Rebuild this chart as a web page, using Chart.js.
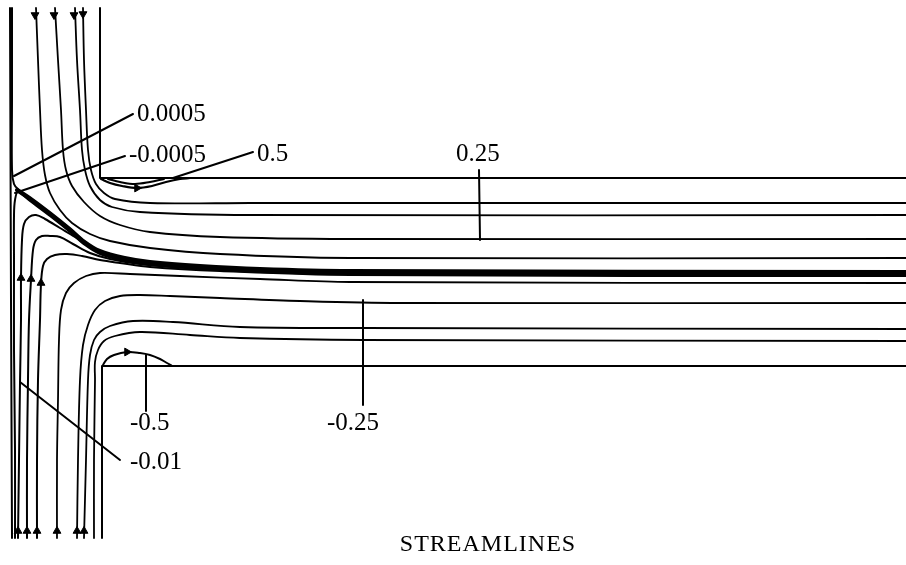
<!DOCTYPE html>
<html>
<head>
<meta charset="utf-8">
<script src="https://cdn.jsdelivr.net/npm/chart.js@4/dist/chart.umd.min.js"></script>
<style>
  html, body { margin: 0; padding: 0; background: #fff; }
  #wrap { width: 906px; height: 565px; position: relative; }
</style>
</head>
<body>
<div id="wrap"><canvas id="c"></canvas></div>
<script>
// Flow domain: a T-junction. Inlets at top and bottom of the left channel,
// outlet to the right. Coordinates are in drawing units (x right, y down).

// Channel walls
const wallLeft   = [{x:10,y:8},{x:11,y:300},{x:12,y:538}];
const wallUpper  = [{x:100,y:8},{x:100,y:178},{x:906,y:178}];
const wallLower  = [{x:906,y:366},{x:102,y:366},{x:102,y:538}];

// Streamlines entering from the top inlet
const psiTop1 = [{x:83,y:8},{x:84,y:60},{x:86,y:110},{x:88,y:150},{x:91,y:170},{x:96,y:184},{x:104,y:193},{x:115,y:199},{x:150,y:203},{x:250,y:203},{x:906,y:203}];
const psiTop2 = [{x:75,y:8},{x:77,y:60},{x:80,y:110},{x:82,y:150},{x:85,y:170},{x:90,y:186},{x:100,y:200},{x:112,y:207},{x:140,y:212},{x:250,y:215},{x:906,y:215}];
const psiTop3 = [{x:55,y:8},{x:58,y:60},{x:61,y:110},{x:63,y:150},{x:66,y:170},{x:72,y:186},{x:84,y:202},{x:100,y:216},{x:120,y:225},{x:150,y:232},{x:220,y:237},{x:350,y:239},{x:906,y:239}];
const psiTop4 = [{x:36,y:8},{x:38,y:60},{x:40,y:110},{x:42,y:150},{x:45,y:175},{x:50,y:193},{x:60,y:210},{x:72,y:223},{x:90,y:234},{x:110,y:241},{x:150,y:248},{x:220,y:254},{x:350,y:258},{x:906,y:258}];

// Dividing streamline (psi = 0) and its neighbours psi = +/-0.0005
const psiDivide = [{x:17,y:190},{x:30,y:199},{x:50,y:214},{x:70,y:230},{x:85,y:243},{x:100,y:252},{x:125,y:259},{x:150,y:263},{x:200,y:267},{x:260,y:270},{x:350,y:272},{x:906,y:273}];
const psiPos0005 = [{x:12,y:8},{x:12,y:100},{x:12,y:170},{x:14,y:184},{x:18,y:189},{x:30,y:197},{x:50,y:212},{x:70,y:228},{x:85,y:241},{x:100,y:250},{x:125,y:257},{x:150,y:261},{x:200,y:265},{x:260,y:268},{x:350,y:270},{x:906,y:271}];
const psiNeg0005 = [{x:15,y:538},{x:15,y:450},{x:14,y:350},{x:14,y:260},{x:14,y:215},{x:15,y:200},{x:18,y:192},{x:30,y:201},{x:50,y:216},{x:70,y:232},{x:85,y:245},{x:100,y:254},{x:125,y:261},{x:150,y:265},{x:200,y:269},{x:260,y:272},{x:350,y:274},{x:906,y:275}];

// Streamlines entering from the bottom inlet
const psiBot1 = [{x:18,y:538},{x:19,y:460},{x:20,y:383},{x:21,y:320},{x:21,y:280},{x:22,y:240},{x:24,y:224},{x:29,y:217},{x:36,y:215},{x:45,y:219},{x:60,y:228},{x:75,y:237},{x:90,y:247},{x:105,y:255},{x:130,y:261},{x:160,y:265},{x:220,y:269},{x:350,y:274},{x:906,y:275}];
const psiBot2 = [{x:27,y:538},{x:27,y:460},{x:28,y:380},{x:29,y:320},{x:31,y:280},{x:33,y:250},{x:36,y:240},{x:42,y:236},{x:50,y:236},{x:60,y:237},{x:73,y:244},{x:90,y:253},{x:110,y:259},{x:140,y:264},{x:190,y:268},{x:300,y:273},{x:906,y:275}];
const psiBot3 = [{x:37,y:538},{x:37,y:460},{x:38,y:380},{x:40,y:320},{x:41,y:284},{x:43,y:266},{x:47,y:259},{x:55,y:255},{x:67,y:254},{x:82,y:256},{x:100,y:260},{x:120,y:263},{x:150,y:267},{x:220,y:271},{x:350,y:275},{x:906,y:276}];
const psiBot4 = [{x:57,y:538},{x:57,y:460},{x:58,y:400},{x:59,y:340},{x:61,y:310},{x:66,y:293},{x:74,y:283},{x:86,y:276},{x:100,y:273},{x:130,y:274},{x:180,y:276},{x:260,y:279},{x:350,y:282},{x:906,y:283}];
const psiBot5 = [{x:77,y:538},{x:78,y:460},{x:80,y:380},{x:83,y:345},{x:88,y:325},{x:95,y:310},{x:105,y:301},{x:120,y:296},{x:140,y:295},{x:170,y:296},{x:220,y:298},{x:300,y:301},{x:400,y:303},{x:906,y:303}];
const psiBot6 = [{x:84,y:538},{x:86,y:460},{x:88,y:380},{x:90,y:355},{x:94,y:340},{x:100,y:332},{x:110,y:326},{x:133,y:321},{x:173,y:322},{x:240,y:327},{x:363,y:328},{x:906,y:329}];
const psiBot7 = [{x:94,y:538},{x:94,y:460},{x:95,y:380},{x:95,y:362},{x:98,y:350},{x:104,y:341},{x:115,y:336},{x:140,y:332},{x:190,y:335},{x:240,y:338},{x:363,y:340},{x:906,y:341}];

// Recirculation eddies behind the two corners (psi = 0.5 and -0.5)
const eddyUpper = [{x:101,y:179},{x:110,y:183},{x:122,y:186},{x:137,y:188},{x:152,y:186},{x:166,y:182},{x:180,y:179},{x:190,y:178}];
const eddyUpperCore = [{x:108,y:179},{x:120,y:182},{x:135,y:184},{x:150,y:182},{x:164,y:179}];
const eddyLower = [{x:103,y:365},{x:107,y:359},{x:114,y:355},{x:127,y:352},{x:140,y:353},{x:150,y:355},{x:160,y:359},{x:167,y:363},{x:172,y:366}];

// Flow direction arrows: position on a streamline and heading (degrees, 0 = up)
const arrowPts = [
  {x:35,y:15},{x:54,y:15},{x:74,y:15},{x:83,y:14},
  {x:21,y:278},{x:31,y:279},{x:41,y:283},
  {x:18,y:531},{x:27,y:531},{x:37,y:531},{x:57,y:531},{x:77,y:531},{x:84,y:531},
  {x:137,y:188},{x:127,y:352}
];
const arrowHeading = [180,180,180,180, 0,0,0, 0,0,0,0,0,0, 90,90];

// Contour value labels and their leader lines
const labelText = ['0.0005','-0.0005','0.5','0.25','-0.25','-0.5','-0.01'];
const labelAnchor = [[137,114],[129,155],[257,154],[456,154],[327,423],[130,423],[130,462]];
const leaders = [
  [{x:133,y:114},{x:14,y:176}],
  [{x:125,y:156},{x:15,y:193}],
  [{x:173,y:178},{x:253,y:152}],
  [{x:479,y:170},{x:480,y:240}],
  [{x:363,y:300},{x:363,y:405}],
  [{x:146,y:355},{x:146,y:411}],
  [{x:20,y:382},{x:120,y:460}]
];
const chartTitle = 'STREAMLINES';

function curve(data, width) {
  return { data, showLine: true, borderColor: '#000', borderWidth: width,
           pointRadius: 0, tension: 0.35, fill: false, order: 2 };
}
function straight(data, width) {
  return { data, showLine: true, borderColor: '#000', borderWidth: width,
           pointRadius: 0, tension: 0, fill: false, order: 2 };
}

const datasets = [
  straight(wallLeft, 2), straight(wallUpper, 2), straight(wallLower, 2),
  curve(psiTop1, 1.8), curve(psiTop2, 1.8), curve(psiTop3, 1.8), curve(psiTop4, 1.8),
  curve(psiPos0005, 2), curve(psiDivide, 4), curve(psiNeg0005, 2),
  curve(psiBot1, 2), curve(psiBot2, 2), curve(psiBot3, 2),
  curve(psiBot4, 1.8), curve(psiBot5, 1.8), curve(psiBot6, 1.8), curve(psiBot7, 1.8),
  curve(eddyUpper, 2.2), curve(eddyUpperCore, 2), curve(eddyLower, 2),
  ...leaders.map(l => straight(l, 2)),
  { data: arrowPts, showLine: false, pointStyle: 'triangle', pointRadius: 4.5,
    pointRotation: arrowHeading, backgroundColor: '#000', borderColor: '#000',
    borderWidth: 1, order: 1 }
];

// Draws the contour values and the caption as text
const textLayer = {
  id: 'textLayer',
  afterDatasetsDraw(chart) {
    const { ctx, scales: { x, y } } = chart;
    ctx.save();
    ctx.fillStyle = '#000';
    ctx.font = '25px "Liberation Serif", "Times New Roman", serif';
    ctx.textBaseline = 'middle';
    ctx.textAlign = 'left';
    labelText.forEach((t, i) => {
      const a = labelAnchor[i];
      ctx.fillText(t, x.getPixelForValue(a[0]), y.getPixelForValue(a[1]));
    });
    ctx.font = '24px "Liberation Serif", "Times New Roman", serif';
    ctx.textAlign = 'center';
    if ('letterSpacing' in ctx) ctx.letterSpacing = '1px';
    ctx.fillText(chartTitle, x.getPixelForValue(488), y.getPixelForValue(545));
    ctx.restore();
  }
};

new Chart(document.getElementById('c'), {
  type: 'scatter',
  data: { datasets },
  options: {
    responsive: true,
    maintainAspectRatio: false,
    animation: false,
    layout: { padding: 0, autoPadding: false },
    plugins: { legend: { display: false }, tooltip: { enabled: false }, title: { display: false } },
    elements: { line: { capBezierPoints: false, borderCapStyle: 'round', borderJoinStyle: 'round' } },
    scales: {
      x: { type: 'linear', min: 0, max: 906, display: false },
      y: { type: 'linear', min: 0, max: 565, reverse: true, display: false }
    }
  },
  plugins: [textLayer]
});
</script>
</body>
</html>
